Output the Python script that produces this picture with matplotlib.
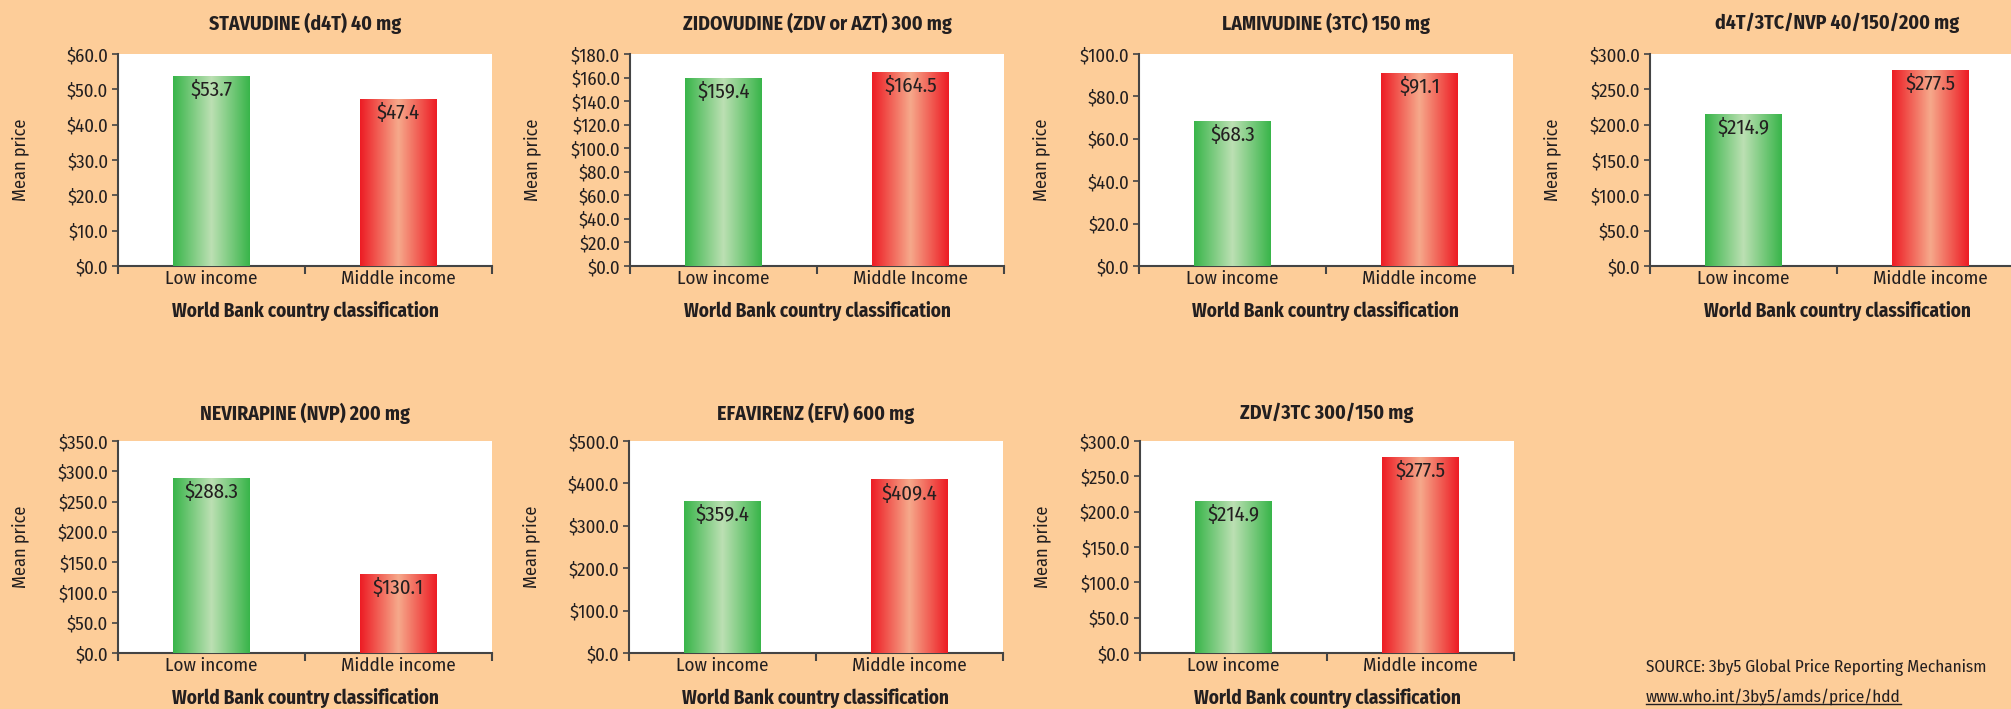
import numpy as np
import matplotlib
matplotlib.use("Agg")
import matplotlib.pyplot as plt
from matplotlib.colors import LinearSegmentedColormap
from matplotlib.lines import Line2D

plt.rcParams['font.family'] = ['Fira Sans Condensed', 'Liberation Sans Narrow', 'DejaVu Sans']

# data
titles = ['STAVUDINE (d4T) 40 mg',
          'ZIDOVUDINE (ZDV or AZT) 300 mg',
          'LAMIVUDINE (3TC) 150 mg',
          'd4T/3TC/NVP 40/150/200 mg',
          'NEVIRAPINE (NVP) 200 mg',
          'EFAVIRENZ (EFV) 600 mg',
          'ZDV/3TC 300/150 mg']
low_income = [53.7, 159.4, 68.3, 214.9, 288.3, 359.4, 214.9]
middle_income = [47.4, 164.5, 91.1, 277.5, 130.1, 409.4, 277.5]
y_max = [60, 180, 100, 300, 350, 500, 300]
y_step = [10, 20, 20, 50, 50, 100, 50]
cat_labels = [['Low income', 'Middle income'],
              ['Low income', 'Middle Income'],
              ['Low income', 'Middle income'],
              ['Low income', 'Middle income'],
              ['Low income', 'Middle income'],
              ['Low income', 'Middle income'],
              ['Low income', 'Middle income']]

W, H = 2011, 709
bg = '#FDCD99'
txt = '#231F20'

green = LinearSegmentedColormap.from_list('g', ['#39B54A', '#BCE0B3', '#39B54A'])
red = LinearSegmentedColormap.from_list('r', ['#ED1C24', '#F6A98B', '#ED1C24'])

# axes boxes in pixels: left, top
boxes = [(118, 54), (630, 54), (1139, 54), (1650, 54),
         (118, 441), (629, 441), (1140, 441)]
title_y = [23, 23, 23, 23, 413, 413, 413]
aw, ah = 374, 212

fig = plt.figure(figsize=(W / 100, H / 100), dpi=100)
fig.patch.set_facecolor(bg)
renderer = fig.canvas.get_renderer()


def fit_size(s, target_px, weight='normal'):
    # font size that gives the text the width it has in the reference
    t = fig.text(0, 0, s, fontsize=10, fontweight=weight)
    w = t.get_window_extent(renderer).width
    t.remove()
    return 10 * target_px / w


fs_title = fit_size('STAVUDINE (d4T) 40 mg', 192, 'bold')
fs_xlab = fit_size('World Bank country classification', 268, 'bold')
fs_cat = fit_size('Low income', 92)
fs_tick = fit_size('$60.0', 42)
fs_val = fit_size('$53.7', 42)
fs_ylab = fit_size('Mean price', 82)
fs_src = fit_size('SOURCE: 3by5 Global Price Reporting Mechanism', 340)


def shade(ax, patch, cmap):
    x, y = patch.get_x(), patch.get_y()
    w, h = patch.get_width(), patch.get_height()
    grad = np.linspace(0, 1, 200).reshape(1, -1)
    im = ax.imshow(grad, cmap=cmap, aspect='auto', extent=(x, x + w, y, y + h),
                   zorder=3, interpolation='bilinear')
    im.set_clip_path(patch)


for i in range(7):
    left, top = boxes[i]
    ax = fig.add_axes([left / W, 1 - (top + ah) / H, aw / W, ah / H])
    ax.set_facecolor('white')
    vals = [low_income[i], middle_income[i]]
    bars = ax.bar([0, 1], vals, width=0.41, color=['#39B54A', '#ED1C24'], zorder=2)
    shade(ax, bars[0], green)
    shade(ax, bars[1], red)
    for b, v in zip(bars, vals):
        ax.annotate('$%.1f' % v, (b.get_x() + b.get_width() / 2, v),
                    xytext=(0, -3), textcoords='offset points',
                    ha='center', va='top', fontsize=fs_val, color=txt, zorder=5)
    ax.set_xlim(-0.5, 1.5)
    ax.set_ylim(0, y_max[i])
    ticks = np.arange(0, y_max[i] + 0.1, y_step[i])
    ax.set_yticks(ticks)
    ax.set_yticklabels(['$%.1f' % t for t in ticks])
    ax.set_xticks([0, 1])
    ax.set_xticklabels(cat_labels[i])
    ax.set_xticks([-0.5, 0.5, 1.5], minor=True)
    ax.tick_params(axis='x', which='major', length=0, pad=3, labelsize=fs_cat, labelcolor=txt)
    ax.tick_params(axis='x', which='minor', length=6, width=1.5, color='#444444', direction='out')
    ax.tick_params(axis='y', length=4, width=1.2, color='#444444', pad=3,
                   labelsize=fs_tick, labelcolor=txt)
    for s in ['top', 'right']:
        ax.spines[s].set_visible(False)
    for s in ['left', 'bottom']:
        ax.spines[s].set_color('#444444')
        ax.spines[s].set_linewidth(1.5)
    ax.text(0.5, 1 + (top - title_y[i]) / ah, titles[i], ha='center', va='center',
            transform=ax.transAxes, fontsize=fs_title, fontweight='bold', color=txt)
    ax.text(-98 / aw, 0.5, 'Mean price', rotation=90, ha='center', va='center',
            transform=ax.transAxes, fontsize=fs_ylab, color=txt)
    ax.text(0.5, -45 / ah, 'World Bank country classification', ha='center', va='center',
            transform=ax.transAxes, fontsize=fs_xlab, fontweight='bold', color=txt)

fig.text(1646 / W, 1 - 668 / H, 'SOURCE: 3by5 Global Price Reporting Mechanism',
         ha='left', va='center', fontsize=fs_src, color=txt)
url = fig.text(1646 / W, 1 - 697 / H, 'www.who.int/3by5/amds/price/hdd',
               ha='left', va='center', fontsize=fs_src, color=txt)

# underline the link
fig.canvas.draw()
bb = url.get_window_extent().transformed(fig.transFigure.inverted())
fig.add_artist(Line2D([bb.x0, bb.x1], [bb.y0 + 0.002, bb.y0 + 0.002],
                      transform=fig.transFigure, color=txt, linewidth=1))

fig.savefig('out.png', dpi=100, facecolor=bg)
